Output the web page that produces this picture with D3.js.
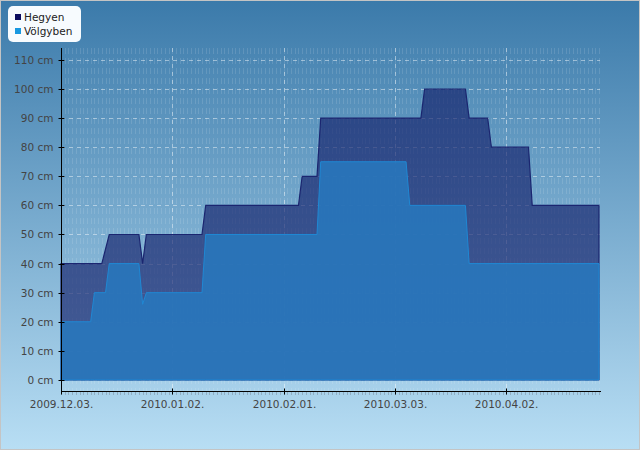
<!DOCTYPE html>
<html>
<head>
<meta charset="utf-8">
<script src="https://cdn.jsdelivr.net/npm/d3@7"></script>
<style>
body { margin: 0; }
svg { display: block; }
.axis text { font-family: "DejaVu Sans", sans-serif; font-size: 10.5px; fill: #444; }
</style>
</head>
<body>
<div id="chart"></div>
<script>
// Hegyen (mountain) snow depth, step points
var hegyenDates = ["2009-12-03","2009-12-14","2009-12-16","2009-12-24","2009-12-25","2009-12-26",
    "2010-01-10","2010-01-11","2010-02-05","2010-02-06","2010-02-10","2010-02-11",
    "2010-03-10","2010-03-11","2010-03-22","2010-03-23","2010-03-28","2010-03-29",
    "2010-04-08","2010-04-09","2010-04-27"];
var hegyenValues = [40,40,50,50,40,50, 50,60,60,70,70,90, 90,100,100,90,90,80, 80,60,60];

// Völgyben (valley)
var volgyDates = ["2009-12-03","2009-12-11","2009-12-12","2009-12-15","2009-12-16","2009-12-24",
    "2009-12-25","2009-12-26","2010-01-10","2010-01-11","2010-02-10","2010-02-11",
    "2010-03-06","2010-03-07","2010-03-22","2010-03-23","2010-04-27"];
var volgyValues = [20,20,30,30,40,40, 26,30,30,50,50,75, 75,60,60,40,40];

var tickDates = ["2009-12-03","2010-01-02","2010-02-01","2010-03-03","2010-04-02"];
var tickLabels = ["2009.12.03.","2010.01.02.","2010.02.01.","2010.03.03.","2010.04.02."];
var yTicks = [0,10,20,30,40,50,60,70,80,90,100,110];
var seriesNames = ["Hegyen", "Völgyben"];

var W = 640, H = 450;
var parse = d3.utcParse("%Y-%m-%d");

var svg = d3.select("#chart").append("svg")
    .attr("width", W).attr("height", H);

var defs = svg.append("defs");
var bg = defs.append("linearGradient").attr("id", "bgGrad")
    .attr("x1", "0%").attr("y1", "0%").attr("x2", "0%").attr("y2", "100%");
bg.append("stop").attr("offset", "0%").attr("stop-color", "#3b7aaa");
bg.append("stop").attr("offset", "100%").attr("stop-color", "#b8def4");

svg.append("rect").attr("x", 0.5).attr("y", 0.5).attr("width", W - 1).attr("height", H - 1)
    .attr("fill", "url(#bgGrad)").attr("stroke", "#c4c4c4");

var plotLeft = 61, plotRight = 599, plotTop = 48, plotBottom = 391;

var x = d3.scaleUtc()
    .domain([parse("2009-12-03"), parse("2010-04-27")])
    .range([plotLeft, plotRight]);
var y = d3.scaleLinear()
    .domain([-3.8, 114.1])
    .range([plotBottom, plotTop]);

// minor grid: a dashed line for every day
var days = d3.utcDay.range(parse("2009-12-03"), parse("2010-04-28"));
svg.append("g").selectAll("line").data(days).enter().append("line")
    .attr("x1", function(d) { return Math.round(x(d)) + 0.5; })
    .attr("x2", function(d) { return Math.round(x(d)) + 0.5; })
    .attr("y1", plotTop).attr("y2", plotBottom)
    .attr("stroke", "#fff").attr("stroke-opacity", 0.12)
    .attr("stroke-dasharray", "6,4");

// major grid
svg.append("g").selectAll("line").data(yTicks).enter().append("line")
    .attr("x1", plotLeft).attr("x2", plotRight + 1)
    .attr("y1", function(d) { return Math.round(y(d)) + 0.5; })
    .attr("y2", function(d) { return Math.round(y(d)) + 0.5; })
    .attr("stroke", "#fff").attr("stroke-opacity", 0.45)
    .attr("stroke-dasharray", "4,4");
svg.append("g").selectAll("line").data(tickDates.slice(1)).enter().append("line")
    .attr("x1", function(d) { return Math.round(x(parse(d))) + 0.5; })
    .attr("x2", function(d) { return Math.round(x(parse(d))) + 0.5; })
    .attr("y1", plotTop).attr("y2", plotBottom)
    .attr("stroke", "#fff").attr("stroke-opacity", 0.45)
    .attr("stroke-dasharray", "4,4");

var area = d3.area()
    .x(function(d) { return x(d.date); })
    .y0(y(0))
    .y1(function(d) { return y(d.value); });

var hegyen = hegyenDates.map(function(d, i) { return {date: parse(d), value: hegyenValues[i]}; });
var volgy = volgyDates.map(function(d, i) { return {date: parse(d), value: volgyValues[i]}; });

svg.append("path").datum(hegyen)
    .attr("d", area)
    .attr("fill", "#14206a").attr("fill-opacity", 0.66)
    .attr("stroke", "#1b2670").attr("stroke-width", 1.2);

svg.append("path").datum(volgy)
    .attr("d", area)
    .attr("fill", "#2878bd").attr("fill-opacity", 0.88)
    .attr("stroke", "#1f88d4").attr("stroke-width", 1);

// y axis
var yAxis = svg.append("g").attr("class", "axis")
    .attr("transform", "translate(" + (plotLeft + 0.5) + ",0)")
    .call(d3.axisLeft(y).tickValues(yTicks).tickSize(3).tickPadding(5)
        .tickFormat(function(d) { return d + " cm"; }));
yAxis.select(".domain").attr("d", "M0," + plotTop + "V" + plotBottom).attr("stroke", "#000");
yAxis.selectAll(".tick line").attr("x1", -3).attr("x2", 3).attr("stroke", "#000");
yAxis.selectAll(".tick").attr("transform", function(d) { return "translate(0," + (Math.round(y(d)) + 0.5) + ")"; });

// x minor ticks
svg.append("g").selectAll("line").data(days).enter().append("line")
    .attr("x1", function(d) { return Math.round(x(d)) + 0.5; })
    .attr("x2", function(d) { return Math.round(x(d)) + 0.5; })
    .attr("y1", plotBottom + 1).attr("y2", plotBottom + 4)
    .attr("stroke", "#8aa4b8").attr("stroke-opacity", 0.8);

// x axis
var xAxis = svg.append("g").attr("class", "axis")
    .attr("transform", "translate(0," + (plotBottom + 0.5) + ")")
    .call(d3.axisBottom(x).tickValues(tickDates.map(parse)).tickSize(3).tickPadding(6)
        .tickFormat(function(d, i) { return tickLabels[i]; }));
xAxis.select(".domain").attr("d", "M" + plotLeft + ",0H" + (plotRight + 2)).attr("stroke", "#000");
xAxis.selectAll(".tick line").attr("y1", -3).attr("y2", 3).attr("stroke", "#000");
xAxis.selectAll(".tick").attr("transform", function(d) { return "translate(" + (Math.round(x(d)) + 0.5) + ",0)"; });

// legend
var legend = svg.append("g");
legend.append("rect").attr("x", 8).attr("y", 6).attr("width", 73).attr("height", 36)
    .attr("rx", 5).attr("fill", "#f7fbfe");
var legendColors = ["#0b0c5e", "#1898e0"];
seriesNames.forEach(function(name, i) {
    legend.append("rect").attr("x", 15).attr("y", 14 + i * 14).attr("width", 6).attr("height", 6)
        .attr("fill", legendColors[i]);
    legend.append("text").attr("x", 24).attr("y", 21 + i * 14)
        .attr("font-family", "DejaVu Sans, sans-serif").attr("font-size", "10.5px")
        .attr("fill", "#222").text(name);
});
</script>
</body>
</html>
